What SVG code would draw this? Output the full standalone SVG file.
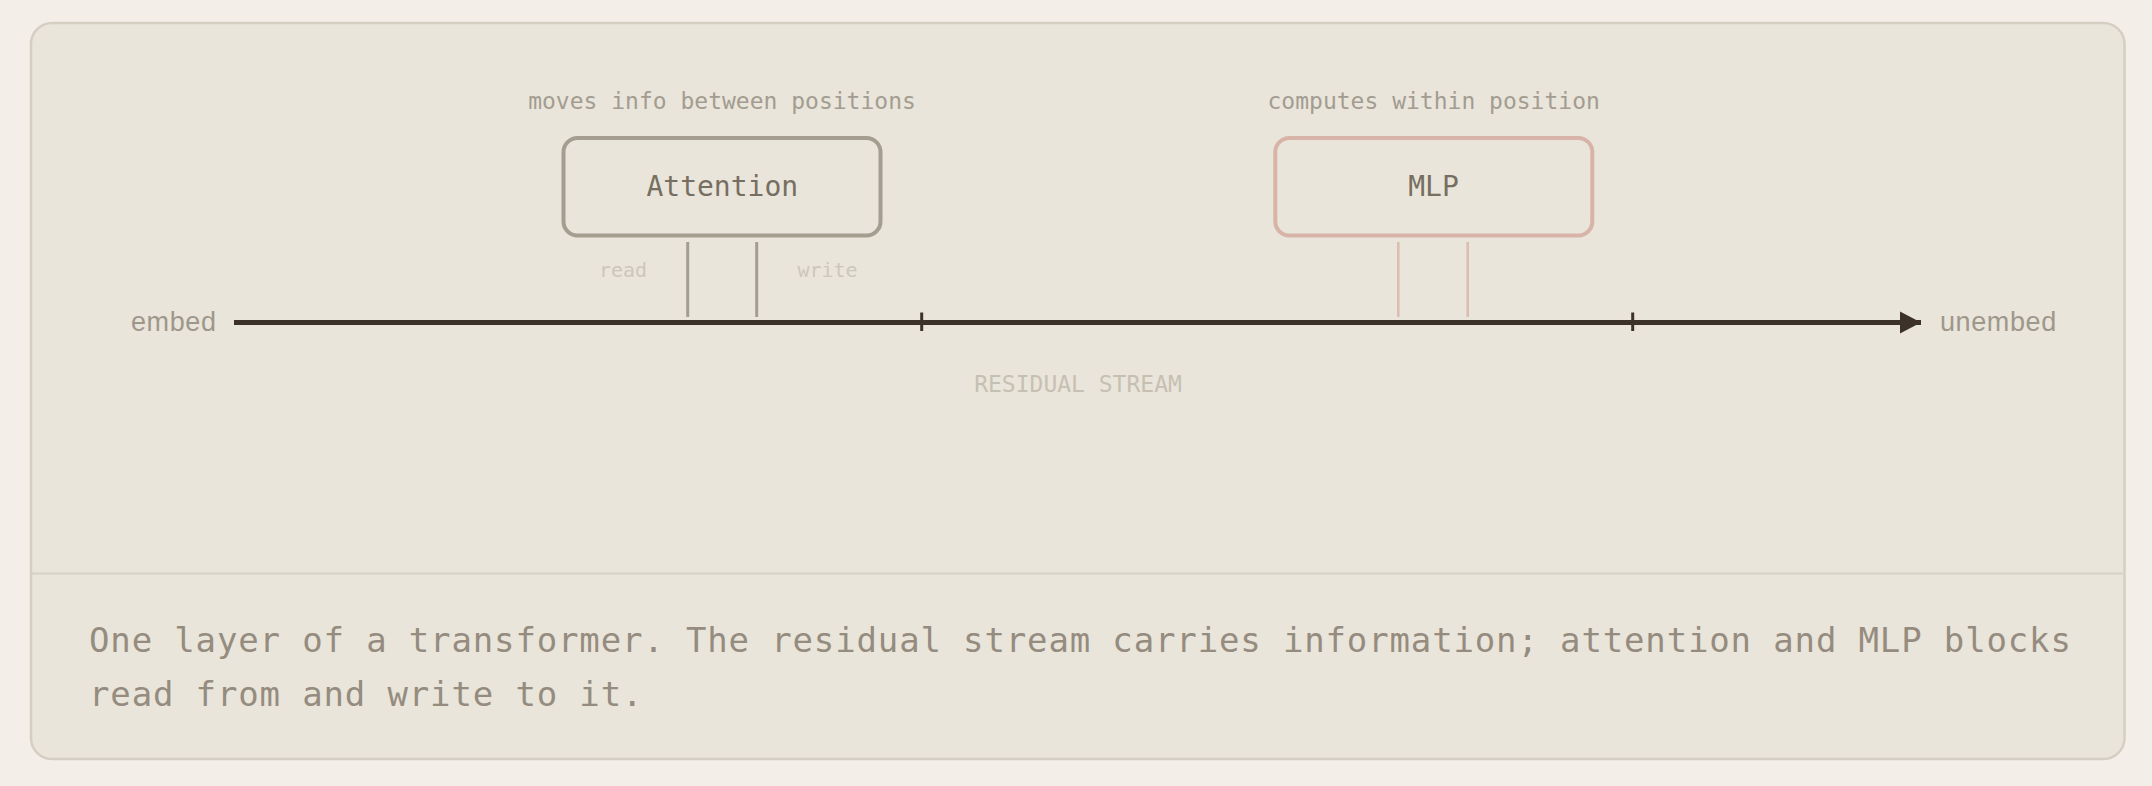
<svg xmlns="http://www.w3.org/2000/svg" width="2152" height="786" viewBox="0 0 2152 786">
<style>
.mono{font-family:"DejaVu Sans Mono","Liberation Mono",monospace}
.sans{font-family:"Liberation Sans","DejaVu Sans",sans-serif}
.box{fill:#e9e5da;stroke-width:4}
.att{stroke:#a49e91}
.mlp{stroke:#d8b4a8}
.title{font-size:28px;fill:#766e61;text-anchor:middle}
.note{font-size:23px;fill:#a39c90;text-anchor:middle}
.rw{font-size:20px;fill:#cdc7ba;text-anchor:middle}
.end{font-size:27px;fill:#9e978b;letter-spacing:0.6px}
</style>
<defs>
<marker id="arrow" markerUnits="userSpaceOnUse" markerWidth="22" markerHeight="24" refX="21" refY="12" orient="auto">
<path d="M0,1 L21,12 L0,23 Z" fill="#3c3229"/>
</marker>
</defs>
<rect x="0" y="0" width="2152" height="786" fill="#f3efe8"/>
<g id="panel">
<rect x="31" y="23" width="2093.5" height="736" rx="21" fill="#e9e5da" stroke="#d4cfc2" stroke-width="2.5"/>
<line x1="32" y1="573.5" x2="2123" y2="573.5" stroke="#d6d1c5" stroke-width="2"/>
</g>
<g id="connectors">
<line x1="234" y1="322.5" x2="1921" y2="322.5" stroke="#3c3229" stroke-width="5" marker-end="url(#arrow)"/>
<line x1="921.7" y1="312.5" x2="921.7" y2="331" stroke="#3c3229" stroke-width="3"/>
<line x1="1632.7" y1="312.5" x2="1632.7" y2="331" stroke="#3c3229" stroke-width="3"/>
<line x1="687.7" y1="242" x2="687.7" y2="317" stroke="#a49e91" stroke-width="3"/>
<line x1="756.7" y1="242" x2="756.7" y2="317" stroke="#a49e91" stroke-width="3"/>
<line x1="1398.3" y1="242" x2="1398.3" y2="317" stroke="#dcbdb1" stroke-width="2.6"/>
<line x1="1467.7" y1="242" x2="1467.7" y2="317" stroke="#dcbdb1" stroke-width="2.6"/>
</g>
<g id="embed">
<text class="sans end" x="131" y="331">embed</text>
</g>
<g id="unembed">
<text class="sans end" x="1940" y="331">unembed</text>
</g>
<g id="attention">
<text class="mono note" x="722" y="109">moves info between positions</text>
<rect class="box att" x="563.5" y="138" width="317" height="97.5" rx="14"/>
<text class="mono title" x="722.3" y="196">Attention</text>
<text class="mono rw" x="623" y="277">read</text>
<text class="mono rw" x="827.5" y="277">write</text>
</g>
<g id="mlp">
<text class="mono note" x="1433.7" y="109">computes within position</text>
<rect class="box mlp" x="1275.3" y="138" width="317" height="97.5" rx="14"/>
<text class="mono title" x="1433.5" y="196">MLP</text>
</g>
<g id="residual">
<text class="mono" x="1078" y="392" font-size="23" fill="#c6c0b3" text-anchor="middle">RESIDUAL STREAM</text>
</g>
<g id="caption">
<text class="mono" font-size="34" fill="#958c7f" letter-spacing="0.85"><tspan x="89" y="652">One layer of a transformer. The residual stream carries information; attention and MLP blocks</tspan><tspan x="89" y="706">read from and write to it.</tspan></text>
</g>
</svg>
